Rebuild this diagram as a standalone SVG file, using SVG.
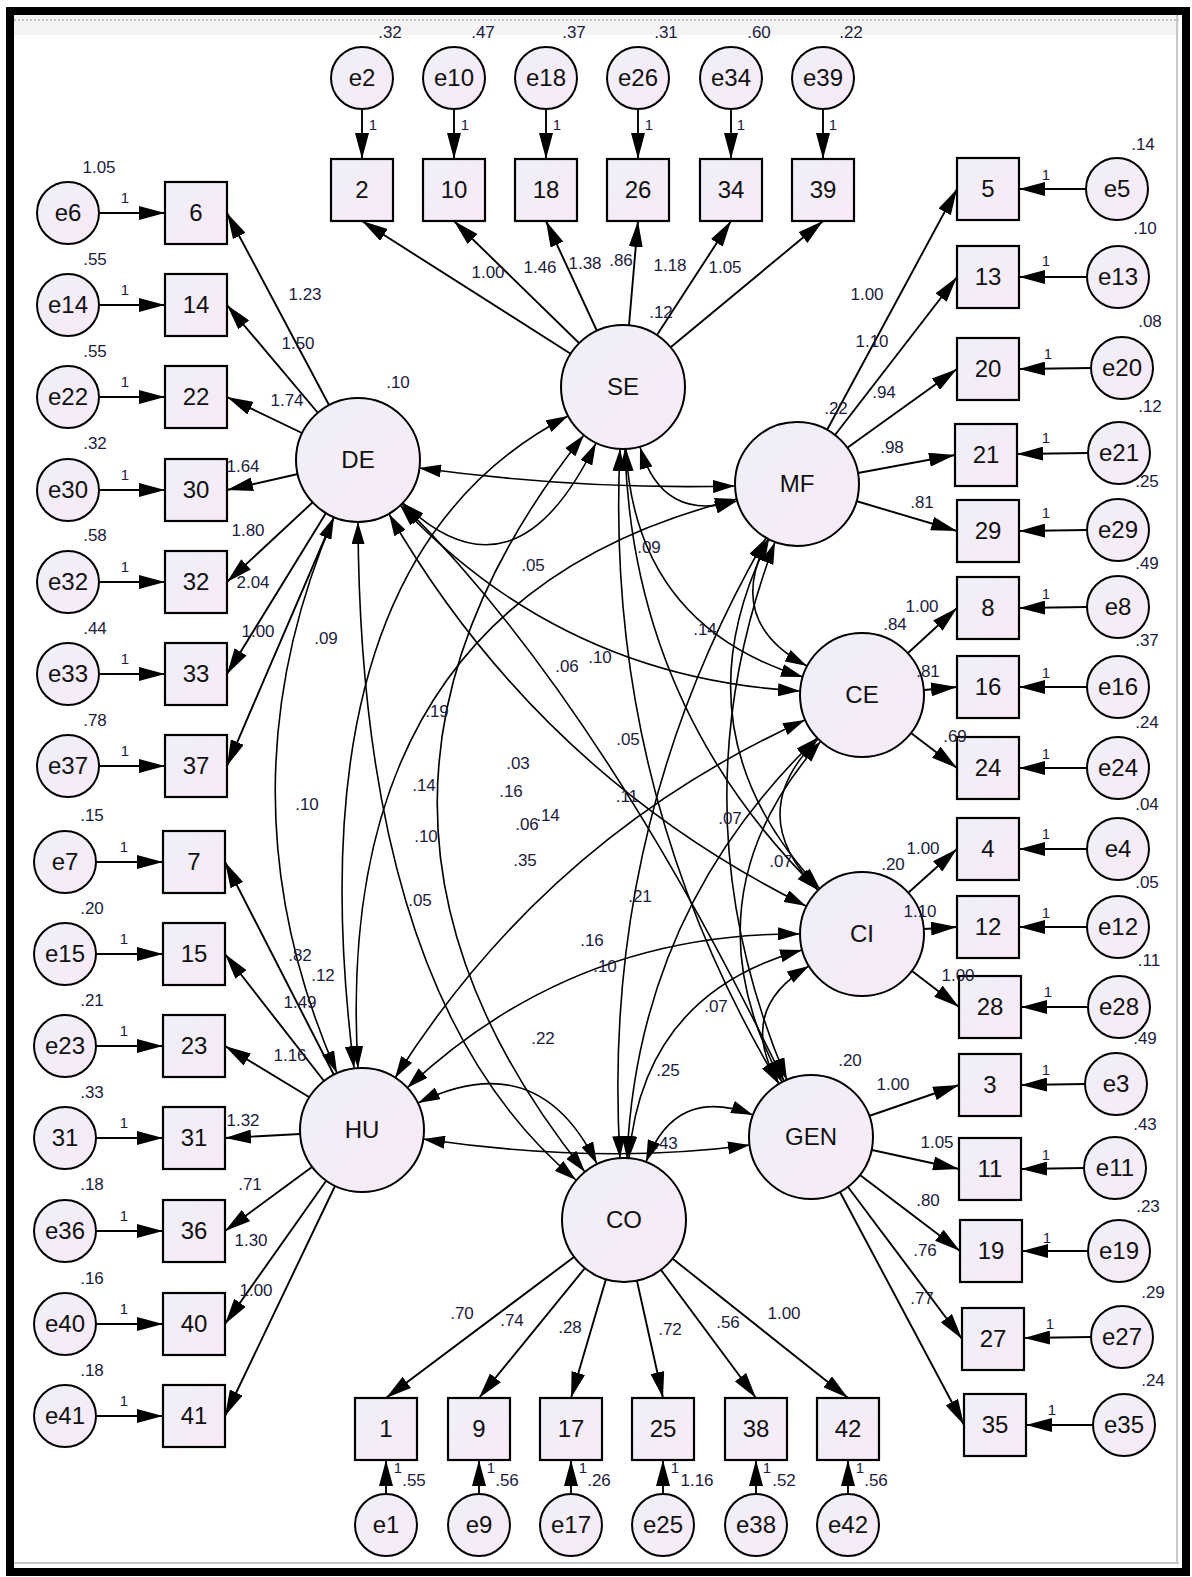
<svg xmlns="http://www.w3.org/2000/svg" width="1192" height="1577" viewBox="0 0 1192 1577">
<defs>
<linearGradient id="fillg" x1="0" y1="0" x2="1" y2="1">
<stop offset="0" stop-color="#eef0f8"/>
<stop offset="1" stop-color="#f9e9f7"/>
</linearGradient>
<marker id="ah" viewBox="0 0 26 14" refX="26" refY="7" markerWidth="26" markerHeight="14" markerUnits="userSpaceOnUse" orient="auto-start-reverse">
<path d="M0,0 L26,7 L0,14 z" fill="#000"/>
</marker>
<marker id="ch" viewBox="0 0 22 13" refX="22" refY="6.5" markerWidth="22" markerHeight="13" markerUnits="userSpaceOnUse" orient="auto-start-reverse">
<path d="M0,0 L22,6.5 L0,13 z" fill="#000"/>
</marker>
<style>
.lat{fill:url(#fillg);stroke:#000;stroke-width:2}
.err{fill:url(#fillg);stroke:#000;stroke-width:2}
.box{fill:url(#fillg);stroke:#000;stroke-width:2.2}
.nl{font-family:"Liberation Sans",Arial,sans-serif;font-size:24px;text-anchor:middle;fill:#111}
.lb{font-family:"Liberation Sans",Arial,sans-serif;font-size:17px;text-anchor:middle;fill:#1c1c3c}
.one{font-family:"Liberation Sans",Arial,sans-serif;font-size:15px;text-anchor:middle;fill:#1c1c3c}
.ld{stroke:#000;stroke-width:1.9;fill:none;marker-end:url(#ah)}
.cv{stroke:#000;stroke-width:1.6;fill:none;marker-start:url(#ch);marker-end:url(#ch)}
</style>
</defs>

<rect x="0" y="0" width="1192" height="1577" fill="#fff"/>
<rect x="14" y="15" width="1165" height="20" fill="#f4f4f4"/>
<line x1="14" y1="20" x2="1179" y2="20" stroke="#b8b8b8" stroke-width="1.5" stroke-dasharray="2,2"/>
<line x1="1177" y1="15" x2="1177" y2="1564" stroke="#c8c8c8" stroke-width="2"/>
<line x1="14" y1="1563" x2="1179" y2="1563" stroke="#c8c8c8" stroke-width="2"/>
<rect x="10" y="11" width="1176" height="1561" fill="none" stroke="#000" stroke-width="8"/>

<g id="connectors">
<!-- SE loadings -->
<line class="ld" x1="571" y1="354" x2="362" y2="221"/>
<line class="ld" x1="579" y1="343" x2="454" y2="221"/>
<line class="ld" x1="597" y1="331" x2="546" y2="221"/>
<line class="ld" x1="629" y1="325" x2="638" y2="221"/>
<line class="ld" x1="657" y1="335" x2="731" y2="221"/>
<line class="ld" x1="671" y1="347" x2="823" y2="221"/>
<!-- DE loadings -->
<line class="ld" x1="329" y1="405" x2="227" y2="213"/>
<line class="ld" x1="318" y1="413" x2="227" y2="305"/>
<line class="ld" x1="302" y1="433" x2="227" y2="397"/>
<line class="ld" x1="298" y1="474" x2="227" y2="490"/>
<line class="ld" x1="313" y1="502" x2="227" y2="582"/>
<line class="ld" x1="326" y1="513" x2="227" y2="674"/>
<line class="ld" x1="334" y1="517" x2="227" y2="766"/>
<!-- HU loadings -->
<line class="ld" x1="334" y1="1075" x2="225" y2="862"/>
<line class="ld" x1="324" y1="1081" x2="225" y2="954"/>
<line class="ld" x1="309" y1="1097" x2="225" y2="1046"/>
<line class="ld" x1="300" y1="1134" x2="225" y2="1138"/>
<line class="ld" x1="312" y1="1167" x2="225" y2="1231"/>
<line class="ld" x1="326" y1="1181" x2="225" y2="1324"/>
<line class="ld" x1="335" y1="1186" x2="225" y2="1416"/>
<!-- MF loadings -->
<line class="ld" x1="827" y1="430" x2="957" y2="189"/>
<line class="ld" x1="835" y1="435" x2="957" y2="277"/>
<line class="ld" x1="847" y1="448" x2="957" y2="369"/>
<line class="ld" x1="858" y1="473" x2="955" y2="455"/>
<line class="ld" x1="856" y1="501" x2="957" y2="531"/>
<!-- CE loadings -->
<line class="ld" x1="908" y1="653" x2="957" y2="608"/>
<line class="ld" x1="924" y1="690" x2="957" y2="687"/>
<line class="ld" x1="911" y1="733" x2="957" y2="768"/>
<!-- CI loadings -->
<line class="ld" x1="908" y1="893" x2="957" y2="849"/>
<line class="ld" x1="924" y1="929" x2="957" y2="927"/>
<line class="ld" x1="912" y1="971" x2="959" y2="1007"/>
<!-- GEN loadings -->
<line class="ld" x1="869" y1="1116" x2="959" y2="1085"/>
<line class="ld" x1="872" y1="1150" x2="959" y2="1169"/>
<line class="ld" x1="860" y1="1175" x2="960" y2="1251"/>
<line class="ld" x1="848" y1="1187" x2="962" y2="1339"/>
<line class="ld" x1="840" y1="1192" x2="964" y2="1425"/>
<!-- CO loadings -->
<line class="ld" x1="574" y1="1257" x2="386" y2="1398"/>
<line class="ld" x1="585" y1="1268" x2="479" y2="1398"/>
<line class="ld" x1="606" y1="1279" x2="571" y2="1398"/>
<line class="ld" x1="637" y1="1281" x2="663" y2="1398"/>
<line class="ld" x1="661" y1="1270" x2="756" y2="1398"/>
<line class="ld" x1="673" y1="1259" x2="848" y2="1398"/>
<!-- error arrows top -->
<line class="ld" x1="362" y1="109" x2="362" y2="159"/>
<line class="ld" x1="454" y1="109" x2="454" y2="159"/>
<line class="ld" x1="546" y1="109" x2="546" y2="159"/>
<line class="ld" x1="638" y1="109" x2="638" y2="159"/>
<line class="ld" x1="731" y1="109" x2="731" y2="159"/>
<line class="ld" x1="823" y1="109" x2="823" y2="159"/>
<!-- error arrows left -->
<line class="ld" x1="99" y1="213" x2="165" y2="213"/>
<line class="ld" x1="99" y1="305" x2="165" y2="305"/>
<line class="ld" x1="99" y1="397" x2="165" y2="397"/>
<line class="ld" x1="99" y1="490" x2="165" y2="490"/>
<line class="ld" x1="99" y1="582" x2="165" y2="582"/>
<line class="ld" x1="99" y1="674" x2="165" y2="674"/>
<line class="ld" x1="99" y1="766" x2="165" y2="766"/>
<line class="ld" x1="96" y1="862" x2="163" y2="862"/>
<line class="ld" x1="96" y1="954" x2="163" y2="954"/>
<line class="ld" x1="96" y1="1046" x2="163" y2="1046"/>
<line class="ld" x1="96" y1="1138" x2="163" y2="1138"/>
<line class="ld" x1="96" y1="1231" x2="163" y2="1231"/>
<line class="ld" x1="96" y1="1324" x2="163" y2="1324"/>
<line class="ld" x1="96" y1="1416" x2="163" y2="1416"/>
<!-- error arrows right -->
<line class="ld" x1="1086" y1="189" x2="1019" y2="189"/>
<line class="ld" x1="1087" y1="277" x2="1019" y2="277"/>
<line class="ld" x1="1091" y1="368" x2="1019" y2="369"/>
<line class="ld" x1="1088" y1="453" x2="1017" y2="454"/>
<line class="ld" x1="1087" y1="530" x2="1019" y2="531"/>
<line class="ld" x1="1087" y1="607" x2="1019" y2="608"/>
<line class="ld" x1="1087" y1="687" x2="1019" y2="687"/>
<line class="ld" x1="1087" y1="768" x2="1019" y2="768"/>
<line class="ld" x1="1087" y1="849" x2="1019" y2="849"/>
<line class="ld" x1="1087" y1="927" x2="1019" y2="927"/>
<line class="ld" x1="1088" y1="1007" x2="1021" y2="1007"/>
<line class="ld" x1="1085" y1="1084" x2="1021" y2="1085"/>
<line class="ld" x1="1084" y1="1168" x2="1021" y2="1169"/>
<line class="ld" x1="1088" y1="1251" x2="1022" y2="1251"/>
<line class="ld" x1="1091" y1="1337" x2="1024" y2="1338"/>
<line class="ld" x1="1093" y1="1425" x2="1026" y2="1425"/>
<!-- error arrows bottom -->
<line class="ld" x1="386" y1="1494" x2="386" y2="1460"/>
<line class="ld" x1="479" y1="1494" x2="479" y2="1460"/>
<line class="ld" x1="571" y1="1494" x2="571" y2="1460"/>
<line class="ld" x1="663" y1="1494" x2="663" y2="1460"/>
<line class="ld" x1="756" y1="1494" x2="756" y2="1460"/>
<line class="ld" x1="848" y1="1494" x2="848" y2="1460"/>
<!-- covariances -->
<path class="cv" d="M403,503 Q515,610 596,443"/>
<path class="cv" d="M640,447 Q662,523 737,501"/>
<path class="cv" d="M768,539 Q724,622 807,666"/>
<path class="cv" d="M818,739 Q742,814 818,890"/>
<path class="cv" d="M809,966 Q735,1010 779,1084"/>
<path class="cv" d="M753,1115 Q676,1085 646,1162"/>
<path class="cv" d="M597,1164 Q538,1044 418,1103"/>
<path class="cv" d="M337,1073 Q215,795 334,517"/>
<path class="cv" d="M419,468 Q580,490 735,486"/>
<path class="cv" d="M626,449 Q635,625 803,677"/>
<path class="cv" d="M769,539 Q672,732 820,889"/>
<path class="cv" d="M821,741 Q682,898 782,1082"/>
<path class="cv" d="M802,950 Q643,994 629,1158"/>
<path class="cv" d="M750,1145 Q600,1165 423,1139"/>
<path class="cv" d="M358,522 Q360,1000 576,1180"/>
<path class="cv" d="M354,1068 Q290,560 568,416"/>
<path class="cv" d="M400,505 Q563,678 800,691"/>
<path class="cv" d="M625,449 Q633,708 818,890"/>
<path class="cv" d="M775,542 Q673,813 787,1080"/>
<path class="cv" d="M817,738 Q638,910 627,1158"/>
<path class="cv" d="M800,934 Q573,932 407,1088"/>
<path class="cv" d="M784,1081 Q600,700 402,504"/>
<path class="cv" d="M585,1172 Q290,804 584,435"/>
<path class="cv" d="M358,1068 Q330,600 737,499"/>
<path class="cv" d="M389,514 Q539,773 806,906"/>
<path class="cv" d="M620,449 Q604,790 779,1084"/>
<path class="cv" d="M766,538 Q600,826 620,1158"/>
<path class="cv" d="M805,720 Q547,837 395,1078"/>
</g>

<!-- latent nodes -->
<g id="n-SE"><circle class="lat" cx="623" cy="387" r="62"/><text class="nl" x="623" y="395">SE</text></g>
<g id="n-DE"><circle class="lat" cx="358" cy="460" r="62"/><text class="nl" x="358" y="468">DE</text></g>
<g id="n-MF"><circle class="lat" cx="797" cy="484" r="62"/><text class="nl" x="797" y="492">MF</text></g>
<g id="n-CE"><circle class="lat" cx="862" cy="695" r="62"/><text class="nl" x="862" y="703">CE</text></g>
<g id="n-CI"><circle class="lat" cx="862" cy="934" r="62"/><text class="nl" x="862" y="942">CI</text></g>
<g id="n-GEN"><circle class="lat" cx="811" cy="1137" r="62"/><text class="nl" x="811" y="1145">GEN</text></g>
<g id="n-CO"><circle class="lat" cx="624" cy="1220" r="62"/><text class="nl" x="624" y="1228">CO</text></g>
<g id="n-HU"><circle class="lat" cx="362" cy="1130" r="62"/><text class="nl" x="362" y="1138">HU</text></g>

<!-- top observed + errors -->
<g id="n-2"><rect class="box" x="331" y="159" width="62" height="62"/><text class="nl" x="362" y="198">2</text></g>
<g id="n-10"><rect class="box" x="423" y="159" width="62" height="62"/><text class="nl" x="454" y="198">10</text></g>
<g id="n-18"><rect class="box" x="515" y="159" width="62" height="62"/><text class="nl" x="546" y="198">18</text></g>
<g id="n-26"><rect class="box" x="607" y="159" width="62" height="62"/><text class="nl" x="638" y="198">26</text></g>
<g id="n-34"><rect class="box" x="700" y="159" width="62" height="62"/><text class="nl" x="731" y="198">34</text></g>
<g id="n-39"><rect class="box" x="792" y="159" width="62" height="62"/><text class="nl" x="823" y="198">39</text></g>
<g id="n-e2"><circle class="err" cx="362" cy="78" r="31"/><text class="nl" x="362" y="86">e2</text></g>
<g id="n-e10"><circle class="err" cx="454" cy="78" r="31"/><text class="nl" x="454" y="86">e10</text></g>
<g id="n-e18"><circle class="err" cx="546" cy="78" r="31"/><text class="nl" x="546" y="86">e18</text></g>
<g id="n-e26"><circle class="err" cx="638" cy="78" r="31"/><text class="nl" x="638" y="86">e26</text></g>
<g id="n-e34"><circle class="err" cx="731" cy="78" r="31"/><text class="nl" x="731" y="86">e34</text></g>
<g id="n-e39"><circle class="err" cx="823" cy="78" r="31"/><text class="nl" x="823" y="86">e39</text></g>

<!-- left observed + errors -->
<g id="n-6"><rect class="box" x="165" y="182" width="62" height="62"/><text class="nl" x="196" y="221">6</text></g>
<g id="n-14"><rect class="box" x="165" y="274" width="62" height="62"/><text class="nl" x="196" y="313">14</text></g>
<g id="n-22"><rect class="box" x="165" y="366" width="62" height="62"/><text class="nl" x="196" y="405">22</text></g>
<g id="n-30"><rect class="box" x="165" y="459" width="62" height="62"/><text class="nl" x="196" y="498">30</text></g>
<g id="n-32"><rect class="box" x="165" y="551" width="62" height="62"/><text class="nl" x="196" y="590">32</text></g>
<g id="n-33"><rect class="box" x="165" y="643" width="62" height="62"/><text class="nl" x="196" y="682">33</text></g>
<g id="n-37"><rect class="box" x="165" y="735" width="62" height="62"/><text class="nl" x="196" y="774">37</text></g>
<g id="n-7"><rect class="box" x="163" y="831" width="62" height="62"/><text class="nl" x="194" y="870">7</text></g>
<g id="n-15"><rect class="box" x="163" y="923" width="62" height="62"/><text class="nl" x="194" y="962">15</text></g>
<g id="n-23"><rect class="box" x="163" y="1015" width="62" height="62"/><text class="nl" x="194" y="1054">23</text></g>
<g id="n-31"><rect class="box" x="163" y="1107" width="62" height="62"/><text class="nl" x="194" y="1146">31</text></g>
<g id="n-36"><rect class="box" x="163" y="1200" width="62" height="62"/><text class="nl" x="194" y="1239">36</text></g>
<g id="n-40"><rect class="box" x="163" y="1293" width="62" height="62"/><text class="nl" x="194" y="1332">40</text></g>
<g id="n-41"><rect class="box" x="163" y="1385" width="62" height="62"/><text class="nl" x="194" y="1424">41</text></g>
<g id="n-e6"><circle class="err" cx="68" cy="213" r="31"/><text class="nl" x="68" y="221">e6</text></g>
<g id="n-e14"><circle class="err" cx="68" cy="305" r="31"/><text class="nl" x="68" y="313">e14</text></g>
<g id="n-e22"><circle class="err" cx="68" cy="397" r="31"/><text class="nl" x="68" y="405">e22</text></g>
<g id="n-e30"><circle class="err" cx="68" cy="490" r="31"/><text class="nl" x="68" y="498">e30</text></g>
<g id="n-e32"><circle class="err" cx="68" cy="582" r="31"/><text class="nl" x="68" y="590">e32</text></g>
<g id="n-e33"><circle class="err" cx="68" cy="674" r="31"/><text class="nl" x="68" y="682">e33</text></g>
<g id="n-e37"><circle class="err" cx="68" cy="766" r="31"/><text class="nl" x="68" y="774">e37</text></g>
<g id="n-e7"><circle class="err" cx="65" cy="862" r="31"/><text class="nl" x="65" y="870">e7</text></g>
<g id="n-e15"><circle class="err" cx="65" cy="954" r="31"/><text class="nl" x="65" y="962">e15</text></g>
<g id="n-e23"><circle class="err" cx="65" cy="1046" r="31"/><text class="nl" x="65" y="1054">e23</text></g>
<g id="n-e31"><circle class="err" cx="65" cy="1138" r="31"/><text class="nl" x="65" y="1146">31</text></g>
<g id="n-e36"><circle class="err" cx="65" cy="1231" r="31"/><text class="nl" x="65" y="1239">e36</text></g>
<g id="n-e40"><circle class="err" cx="65" cy="1324" r="31"/><text class="nl" x="65" y="1332">e40</text></g>
<g id="n-e41"><circle class="err" cx="65" cy="1416" r="31"/><text class="nl" x="65" y="1424">e41</text></g>

<!-- right observed + errors -->
<g id="n-5"><rect class="box" x="957" y="158" width="62" height="62"/><text class="nl" x="988" y="197">5</text></g>
<g id="n-13"><rect class="box" x="957" y="246" width="62" height="62"/><text class="nl" x="988" y="285">13</text></g>
<g id="n-20"><rect class="box" x="957" y="338" width="62" height="62"/><text class="nl" x="988" y="377">20</text></g>
<g id="n-21"><rect class="box" x="955" y="424" width="62" height="62"/><text class="nl" x="986" y="463">21</text></g>
<g id="n-29"><rect class="box" x="957" y="500" width="62" height="62"/><text class="nl" x="988" y="539">29</text></g>
<g id="n-8"><rect class="box" x="957" y="577" width="62" height="62"/><text class="nl" x="988" y="616">8</text></g>
<g id="n-16"><rect class="box" x="957" y="656" width="62" height="62"/><text class="nl" x="988" y="695">16</text></g>
<g id="n-24"><rect class="box" x="957" y="737" width="62" height="62"/><text class="nl" x="988" y="776">24</text></g>
<g id="n-4"><rect class="box" x="957" y="818" width="62" height="62"/><text class="nl" x="988" y="857">4</text></g>
<g id="n-12"><rect class="box" x="957" y="896" width="62" height="62"/><text class="nl" x="988" y="935">12</text></g>
<g id="n-28"><rect class="box" x="959" y="976" width="62" height="62"/><text class="nl" x="990" y="1015">28</text></g>
<g id="n-3"><rect class="box" x="959" y="1054" width="62" height="62"/><text class="nl" x="990" y="1093">3</text></g>
<g id="n-11"><rect class="box" x="959" y="1138" width="62" height="62"/><text class="nl" x="990" y="1177">11</text></g>
<g id="n-19"><rect class="box" x="960" y="1220" width="62" height="62"/><text class="nl" x="991" y="1259">19</text></g>
<g id="n-27"><rect class="box" x="962" y="1308" width="62" height="62"/><text class="nl" x="993" y="1347">27</text></g>
<g id="n-35"><rect class="box" x="964" y="1394" width="62" height="62"/><text class="nl" x="995" y="1433">35</text></g>
<g id="n-e5"><circle class="err" cx="1117" cy="189" r="31"/><text class="nl" x="1117" y="197">e5</text></g>
<g id="n-e13"><circle class="err" cx="1118" cy="277" r="31"/><text class="nl" x="1118" y="285">e13</text></g>
<g id="n-e20"><circle class="err" cx="1122" cy="368" r="31"/><text class="nl" x="1122" y="376">e20</text></g>
<g id="n-e21"><circle class="err" cx="1119" cy="453" r="31"/><text class="nl" x="1119" y="461">e21</text></g>
<g id="n-e29"><circle class="err" cx="1118" cy="530" r="31"/><text class="nl" x="1118" y="538">e29</text></g>
<g id="n-e8"><circle class="err" cx="1118" cy="607" r="31"/><text class="nl" x="1118" y="615">e8</text></g>
<g id="n-e16"><circle class="err" cx="1118" cy="687" r="31"/><text class="nl" x="1118" y="695">e16</text></g>
<g id="n-e24"><circle class="err" cx="1118" cy="768" r="31"/><text class="nl" x="1118" y="776">e24</text></g>
<g id="n-e4"><circle class="err" cx="1118" cy="849" r="31"/><text class="nl" x="1118" y="857">e4</text></g>
<g id="n-e12"><circle class="err" cx="1118" cy="927" r="31"/><text class="nl" x="1118" y="935">e12</text></g>
<g id="n-e28"><circle class="err" cx="1119" cy="1007" r="31"/><text class="nl" x="1119" y="1015">e28</text></g>
<g id="n-e3"><circle class="err" cx="1116" cy="1084" r="31"/><text class="nl" x="1116" y="1092">e3</text></g>
<g id="n-e11"><circle class="err" cx="1115" cy="1168" r="31"/><text class="nl" x="1115" y="1176">e11</text></g>
<g id="n-e19"><circle class="err" cx="1119" cy="1251" r="31"/><text class="nl" x="1119" y="1259">e19</text></g>
<g id="n-e27"><circle class="err" cx="1122" cy="1337" r="31"/><text class="nl" x="1122" y="1345">e27</text></g>
<g id="n-e35"><circle class="err" cx="1124" cy="1425" r="31"/><text class="nl" x="1124" y="1433">e35</text></g>

<!-- bottom observed + errors -->
<g id="n-1"><rect class="box" x="355" y="1398" width="62" height="62"/><text class="nl" x="386" y="1437">1</text></g>
<g id="n-9"><rect class="box" x="448" y="1398" width="62" height="62"/><text class="nl" x="479" y="1437">9</text></g>
<g id="n-17"><rect class="box" x="540" y="1398" width="62" height="62"/><text class="nl" x="571" y="1437">17</text></g>
<g id="n-25"><rect class="box" x="632" y="1398" width="62" height="62"/><text class="nl" x="663" y="1437">25</text></g>
<g id="n-38"><rect class="box" x="725" y="1398" width="62" height="62"/><text class="nl" x="756" y="1437">38</text></g>
<g id="n-42"><rect class="box" x="817" y="1398" width="62" height="62"/><text class="nl" x="848" y="1437">42</text></g>
<g id="n-e1"><circle class="err" cx="386" cy="1525" r="31"/><text class="nl" x="386" y="1533">e1</text></g>
<g id="n-e9"><circle class="err" cx="479" cy="1525" r="31"/><text class="nl" x="479" y="1533">e9</text></g>
<g id="n-e17"><circle class="err" cx="571" cy="1525" r="31"/><text class="nl" x="571" y="1533">e17</text></g>
<g id="n-e25"><circle class="err" cx="663" cy="1525" r="31"/><text class="nl" x="663" y="1533">e25</text></g>
<g id="n-e38"><circle class="err" cx="756" cy="1525" r="31"/><text class="nl" x="756" y="1533">e38</text></g>
<g id="n-e42"><circle class="err" cx="848" cy="1525" r="31"/><text class="nl" x="848" y="1533">e42</text></g>

<g id="labels">
<text class="lb" x="390" y="38">.32</text><text class="lb" x="483" y="38">.47</text><text class="lb" x="574" y="38">.37</text>
<text class="lb" x="666" y="38">.31</text><text class="lb" x="759" y="38">.60</text><text class="lb" x="851" y="38">.22</text>
<text class="one" x="373" y="130">1</text><text class="one" x="465" y="130">1</text><text class="one" x="557" y="130">1</text>
<text class="one" x="649" y="130">1</text><text class="one" x="741" y="130">1</text><text class="one" x="833" y="130">1</text>
<text class="lb" x="99" y="173">1.05</text><text class="lb" x="95" y="265">.55</text><text class="lb" x="95" y="357">.55</text>
<text class="lb" x="95" y="449">.32</text><text class="lb" x="95" y="541">.58</text><text class="lb" x="95" y="634">.44</text>
<text class="lb" x="95" y="726">.78</text><text class="lb" x="92" y="821">.15</text><text class="lb" x="92" y="914">.20</text>
<text class="lb" x="92" y="1006">.21</text><text class="lb" x="92" y="1098">.33</text><text class="lb" x="92" y="1190">.18</text>
<text class="lb" x="92" y="1284">.16</text><text class="lb" x="92" y="1376">.18</text>
<text class="one" x="125" y="203">1</text><text class="one" x="125" y="295">1</text><text class="one" x="125" y="387">1</text>
<text class="one" x="125" y="480">1</text><text class="one" x="125" y="572">1</text><text class="one" x="125" y="664">1</text>
<text class="one" x="125" y="756">1</text><text class="one" x="124" y="852">1</text><text class="one" x="124" y="944">1</text>
<text class="one" x="124" y="1036">1</text><text class="one" x="124" y="1128">1</text><text class="one" x="124" y="1221">1</text>
<text class="one" x="124" y="1314">1</text><text class="one" x="124" y="1406">1</text>
<text class="lb" x="1143" y="150">.14</text><text class="lb" x="1145" y="234">.10</text><text class="lb" x="1150" y="327">.08</text>
<text class="lb" x="1150" y="412">.12</text><text class="lb" x="1147" y="487">.25</text><text class="lb" x="1147" y="569">.49</text>
<text class="lb" x="1147" y="646">.37</text><text class="lb" x="1147" y="728">.24</text><text class="lb" x="1147" y="810">.04</text>
<text class="lb" x="1147" y="888">.05</text><text class="lb" x="1149" y="966">.11</text><text class="lb" x="1145" y="1044">.49</text>
<text class="lb" x="1145" y="1130">.43</text><text class="lb" x="1148" y="1212">.23</text><text class="lb" x="1153" y="1298">.29</text>
<text class="lb" x="1153" y="1386">.24</text>
<text class="one" x="1046" y="180">1</text><text class="one" x="1046" y="266">1</text><text class="one" x="1048" y="359">1</text>
<text class="one" x="1046" y="443">1</text><text class="one" x="1046" y="518">1</text><text class="one" x="1046" y="599">1</text>
<text class="one" x="1046" y="678">1</text><text class="one" x="1046" y="759">1</text><text class="one" x="1046" y="839">1</text>
<text class="one" x="1046" y="918">1</text><text class="one" x="1048" y="997">1</text><text class="one" x="1046" y="1075">1</text>
<text class="one" x="1046" y="1160">1</text><text class="one" x="1047" y="1243">1</text><text class="one" x="1050" y="1329">1</text>
<text class="one" x="1052" y="1415">1</text>
<text class="one" x="398" y="1473">1</text><text class="one" x="491" y="1473">1</text><text class="one" x="583" y="1473">1</text>
<text class="one" x="675" y="1473">1</text><text class="one" x="767" y="1473">1</text><text class="one" x="860" y="1473">1</text>
<text class="lb" x="414" y="1486">.55</text><text class="lb" x="507" y="1486">.56</text><text class="lb" x="599" y="1486">.26</text>
<text class="lb" x="697" y="1486">1.16</text><text class="lb" x="784" y="1486">.52</text><text class="lb" x="876" y="1486">.56</text>
<text class="lb" x="585" y="269">1.38</text><text class="lb" x="621" y="266">.86</text>
<text class="lb" x="488" y="278">1.00</text><text class="lb" x="540" y="273">1.46</text>
<text class="lb" x="670" y="271">1.18</text><text class="lb" x="725" y="273">1.05</text>
<text class="lb" x="661" y="318">.12</text>
<text class="lb" x="398" y="388">.10</text><text class="lb" x="305" y="300">1.23</text><text class="lb" x="298" y="349">1.50</text>
<text class="lb" x="287" y="406">1.74</text><text class="lb" x="243" y="472">1.64</text><text class="lb" x="248" y="536">1.80</text>
<text class="lb" x="253" y="588">2.04</text><text class="lb" x="258" y="637">1.00</text>
<text class="lb" x="836" y="414">.22</text><text class="lb" x="867" y="300">1.00</text><text class="lb" x="872" y="347">1.10</text>
<text class="lb" x="884" y="398">.94</text><text class="lb" x="892" y="453">.98</text><text class="lb" x="922" y="508">.81</text>
<text class="lb" x="895" y="630">.84</text><text class="lb" x="922" y="612">1.00</text><text class="lb" x="928" y="677">.81</text>
<text class="lb" x="955" y="742">.69</text>
<text class="lb" x="893" y="870">.20</text><text class="lb" x="923" y="854">1.00</text><text class="lb" x="920" y="917">1.10</text>
<text class="lb" x="958" y="981">1.00</text>
<text class="lb" x="850" y="1066">.20</text><text class="lb" x="893" y="1090">1.00</text><text class="lb" x="937" y="1148">1.05</text>
<text class="lb" x="928" y="1206">.80</text><text class="lb" x="925" y="1256">.76</text><text class="lb" x="922" y="1304">.77</text>
<text class="lb" x="300" y="961">.82</text><text class="lb" x="323" y="981">.12</text><text class="lb" x="300" y="1008">1.49</text>
<text class="lb" x="290" y="1061">1.16</text><text class="lb" x="243" y="1126">1.32</text><text class="lb" x="250" y="1190">.71</text>
<text class="lb" x="251" y="1246">1.30</text><text class="lb" x="256" y="1296">1.00</text>
<text class="lb" x="462" y="1319">.70</text><text class="lb" x="512" y="1326">.74</text><text class="lb" x="570" y="1333">.28</text>
<text class="lb" x="670" y="1335">.72</text><text class="lb" x="728" y="1328">.56</text><text class="lb" x="784" y="1319">1.00</text>
<text class="lb" x="533" y="571">.05</text><text class="lb" x="649" y="553">.09</text><text class="lb" x="705" y="635">.14</text>
<text class="lb" x="567" y="672">.06</text><text class="lb" x="600" y="663">.10</text><text class="lb" x="437" y="717">.19</text>
<text class="lb" x="628" y="745">.05</text><text class="lb" x="518" y="769">.03</text><text class="lb" x="424" y="791">.14</text>
<text class="lb" x="511" y="797">.16</text><text class="lb" x="627" y="802">.11</text><text class="lb" x="307" y="810">.10</text>
<text class="lb" x="527" y="830">.06</text><text class="lb" x="548" y="821">.14</text><text class="lb" x="730" y="824">.07</text>
<text class="lb" x="426" y="842">.10</text><text class="lb" x="525" y="866">.35</text><text class="lb" x="781" y="867">.07</text>
<text class="lb" x="640" y="902">.21</text><text class="lb" x="420" y="906">.05</text><text class="lb" x="592" y="946">.16</text>
<text class="lb" x="605" y="972">.10</text><text class="lb" x="716" y="1012">.07</text><text class="lb" x="543" y="1044">.22</text>
<text class="lb" x="668" y="1076">.25</text><text class="lb" x="666" y="1149">.43</text><text class="lb" x="326" y="644">.09</text>
</g>
</svg>
